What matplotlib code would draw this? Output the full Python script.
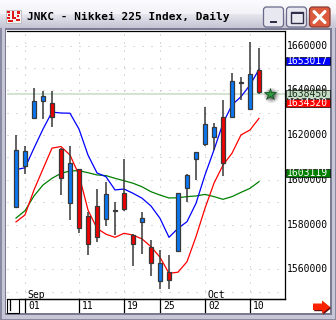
import matplotlib
matplotlib.use("Agg")
import matplotlib.pyplot as plt
import matplotlib.transforms as mtransforms
from matplotlib.patches import Rectangle, FancyBboxPatch, Polygon, Circle
import numpy as np

W, H = 336, 320

# ---------------- data ----------------
title = "JNKC - Nikkei 225 Index, Daily"
dates = ["2006-08-31", "2006-09-01", "2006-09-04", "2006-09-05", "2006-09-06",
         "2006-09-07", "2006-09-08", "2006-09-11", "2006-09-12", "2006-09-13",
         "2006-09-14", "2006-09-15", "2006-09-19", "2006-09-20", "2006-09-21",
         "2006-09-22", "2006-09-25", "2006-09-26", "2006-09-27", "2006-09-28",
         "2006-09-29", "2006-10-02", "2006-10-03", "2006-10-04", "2006-10-05",
         "2006-10-06", "2006-10-10", "2006-10-11"]
opens = [15877, 16063, 16275, 16351, 16344, 16138, 15898, 16047, 15838, 15883,
         15824, 15861, 15940, 15754, 15813, 15698, 15546, 15587, 15683, 15962,
         16092, 16162, 16190, 16283, 16283, 16432, 16318, 16491]
highs = [16201, 16152, 16410, 16397, 16397, 16143, 16152, 16048, 15856, 15959,
         15992, 15900, 16093, 15758, 15855, 15731, 15686, 15664, 15943, 16025,
         16124, 16325, 16253, 16357, 16479, 16461, 16615, 16588]
lows = [15877, 16026, 16275, 16274, 16238, 15932, 15821, 15764, 15664, 15724,
        15795, 15754, 15861, 15616, 15667, 15571, 15511, 15511, 15676, 15902,
        15999, 16152, 16134, 16019, 16280, 16357, 16318, 16385]
closes = [16134, 16129, 16353, 16375, 16280, 16010, 16075, 15786, 15712, 15743,
          15936, 15863, 15868, 15712, 15828, 15627, 15627, 15552, 15940, 16022,
          16123, 16249, 16235, 16074, 16442, 16437, 16473, 16392]
ma_blue = [16046, 16054, 16142, 16227, 16303, 16299, 16298, 16227, 16111, 16031,
           16014, 15955, 15959, 15940, 15918, 15883, 15828, 15743, 15783, 15813,
           15895, 16022, 16134, 16253, 16335, 16372, 16424, 16494]
ma_red = [15812, 15843, 15955, 16049, 16142, 16149, 16111, 16022, 15865, 15783,
          15757, 15743, 15761, 15753, 15736, 15701, 15654, 15582, 15587, 15634,
          15746, 15873, 15985, 16066, 16119, 16201, 16223, 16275]
ma_green = [15829, 15862, 15928, 15977, 16007, 16029, 16040, 16041, 16032, 16022,
            16019, 16007, 15996, 15985, 15969, 15947, 15932, 15919, 15920, 15925,
            15928, 15935, 15925, 15913, 15925, 15944, 15962, 15992]
last_price = 16384.50
axis_levels = [16600, 16400, 16200, 16000, 15800, 15600]
badge_values = [16530.17, 16384.50, 16343.20, 16031.19]
badge_colors = ["#0000ff", "#c4dcc4", "#ff0000", "#008000"]
badge_text_colors = ["white", "#1e2e1e", "white", "white"]
day_ticks = ["2006-09-01", "2006-09-11", "2006-09-19", "2006-09-25",
             "2006-10-02", "2006-10-10"]
month_ticks = [("Sep", "2006-09-01"), ("Oct", "2006-10-02")]

MONO = "DejaVu Sans Mono"
UP_C = "#0a78f5"
DN_C = "#f00000"
EDGE = "#383838"

fig = plt.figure(figsize=(W / 100, H / 100), dpi=100)
fig.patch.set_facecolor("white")

# ---------------- window chrome (pixel coords) ----------------
bg = fig.add_axes([0, 0, 1, 1])
bg.set_xlim(0, W)
bg.set_ylim(H, 0)
bg.axis("off")

bg.add_patch(Rectangle((0, 0), W, H, facecolor="#c6c6d6", edgecolor="none", zorder=0))
bg.add_patch(Rectangle((0, 0), 1.5, H, facecolor="#8a8aa2", edgecolor="none", zorder=0.1))
bg.add_patch(Rectangle((W - 1.5, 0), 1.5, H, facecolor="#8a8aa2", edgecolor="none", zorder=0.1))
bg.add_patch(Rectangle((0, H - 1.5), W, 1.5, facecolor="#8a8aa2", edgecolor="none", zorder=0.1))
bg.add_patch(Rectangle((4.5, 28), W - 9, H - 33, facecolor="#7a7a92", edgecolor="none", zorder=0.2))
bg.add_patch(Rectangle((6, 29.5), 324, 283.5, facecolor="white", edgecolor="none", zorder=0.3))

# title bar gradient
top = np.array([252, 252, 254]) / 255
mid = np.array([232, 232, 240]) / 255
bot = np.array([196, 196, 212]) / 255
n = 28
grad = np.zeros((n, 1, 3))
for k in range(n):
    t = k / (n - 1)
    grad[k, 0] = top * (1 - t) + mid * t if t < 0.5 else mid * (2 - 2 * t) + bot * (2 * t - 1)
bg.imshow(grad, extent=[0, W, 28, 0], aspect="auto", interpolation="bilinear", zorder=0.5)
bg.set_xlim(0, W)
bg.set_ylim(H, 0)

# icon
bg.add_patch(Rectangle((6, 10), 15, 13, facecolor="#f2f2f2", edgecolor="#b0b0b0", lw=0.5, zorder=1))
for (ix, iy, iw, ih) in [(7, 11, 3, 2), (8, 14, 2, 2), (7, 17, 3, 2), (12, 11, 2, 8), (14, 17, 2, 2),
                         (17, 11, 3, 3), (17, 15, 2, 2), (16, 19, 4, 2), (8, 20, 5, 2)]:
    bg.add_patch(Rectangle((ix, iy), iw, ih, facecolor="#e01818", edgecolor="none", zorder=1.1))

bg.text(27, 16.8, title, fontsize=8, fontweight="bold", family=MONO,
        color="#000000", va="center", ha="left", zorder=2)

# buttons
for (bx, face) in [(263.5, "#e8e8f0"), (286.5, "#e8e8f0")]:
    bg.add_patch(FancyBboxPatch((bx, 7), 20, 20, boxstyle="round,pad=0,rounding_size=3",
                                facecolor=face, edgecolor="#6a6a8a", lw=0.9, zorder=2))
bg.add_patch(FancyBboxPatch((309.5, 7), 20.5, 20, boxstyle="round,pad=0,rounding_size=3",
                            facecolor="#dc5a3e", edgecolor="#8a3a34", lw=0.9, zorder=2))
bg.add_patch(Rectangle((269.5, 20.5), 7, 2.5, facecolor="#303048", edgecolor="none", zorder=3))
bg.add_patch(Rectangle((291, 11.5), 11.5, 11.5, facecolor="none", edgecolor="#303048", lw=1.0, zorder=3))
bg.add_patch(Rectangle((291, 11.5), 11.5, 2, facecolor="#303048", edgecolor="none", zorder=3))
bg.plot([314, 325], [11.5, 22.5], color="white", lw=2.2, solid_capstyle="round", zorder=3)
bg.plot([314, 325], [22.5, 11.5], color="white", lw=2.2, solid_capstyle="round", zorder=3)

# bottom-left small box
bg.add_patch(Rectangle((7, 293), 12, 20, facecolor="white", edgecolor="black", lw=0.8, zorder=2))
bg.plot([9.5, 9.5], [295.5, 310], color="black", lw=0.9, zorder=3)

# red arrow with shadow
arrow = np.array([[313, 303.5], [322, 303.5], [322, 300.5], [330, 307], [322, 313.5],
                  [322, 310], [313, 310]])
bg.add_patch(Polygon(arrow + np.array([1.2, 1.2]), closed=True, facecolor="#6a1010",
                     edgecolor="none", zorder=2))
bg.add_patch(Polygon(arrow, closed=True, facecolor="#ff2200", edgecolor="none", zorder=3))

# ---------------- chart axes ----------------
ax = fig.add_axes([7 / W, 1 - 299 / H, (285 - 7) / W, (299 - 31) / H])
ax.set_facecolor("white")
ax.set_xlim(-1, 29.89)
ax.set_ylim(15467.2, 16665.7)
ax.set_xticks([])
ax.set_yticks([])
for side in ["top", "right", "bottom"]:
    ax.spines[side].set_color("black")
    ax.spines[side].set_linewidth(0.9)
ax.spines["left"].set_visible(False)

x = np.arange(len(dates))
idx = {d: i for i, d in enumerate(dates)}

for lv in range(15500, 16700, 100):
    ax.axhline(lv, color="#b4b4b4", lw=0.72, linestyle=(0, (1, 8)), zorder=0.5)
for d in day_ticks:
    ax.axvline(idx[d], color="#b4b4b4", lw=0.72, linestyle=(0, (1, 7)), zorder=0.5)

ax.axhline(last_price, color="#c6dcc6", lw=1.1, zorder=1)

ax.plot(x, ma_green, color="#008000", lw=0.9, zorder=2)
ax.plot(x, ma_red, color="#ff0000", lw=0.9, zorder=2)
ax.plot(x, ma_blue, color="#0000ff", lw=0.9, zorder=2)

o = np.array(opens, float)
c = np.array(closes, float)
colors = [UP_C if cc >= oo else DN_C for oo, cc in zip(o, c)]
ax.vlines(x, lows, highs, color=EDGE, lw=1.1, zorder=3)
body_h = np.maximum(np.abs(c - o), 1.0)
ax.bar(x, body_h, bottom=np.minimum(o, c), width=0.5, color=colors,
       edgecolor=EDGE, lw=0.9, zorder=4)

# star marker at last price
sx = x[-1] + 1.2
for r, a in [(11, 0.10), (9, 0.15), (7, 0.25), (5, 0.35)]:
    ax.plot(sx + 0.15, last_price - 6, marker="o", ms=r, color="#202020", alpha=a,
            mec="none", zorder=5, clip_on=False)
ax.plot(sx, last_price, marker="*", ms=9, color="#2e9a3e", mec="#0c4c1c", mew=0.5,
        zorder=6, clip_on=False)

# price axis labels
yax = mtransforms.blended_transform_factory(ax.transAxes, ax.transData)
lab_x = (287.3 - 7) / 278
for lv in axis_levels:
    ax.text(lab_x, lv, f"{int(round(lv * 100))}", transform=yax, fontsize=7,
            family=MONO, color="black", va="center", ha="left", clip_on=False, zorder=7)

px = 4.472  # value units per pixel
bx0 = (285.8 - 7) / 278
bw = 44 / 278
for v, fc, tc in zip(badge_values, badge_colors, badge_text_colors):
    ax.add_patch(Rectangle((bx0, v - 4 * px), bw, 8 * px, transform=yax,
                           facecolor=fc, edgecolor="black", lw=0.5, clip_on=False, zorder=8))
    ax.text(lab_x, v, f"{int(round(v * 100))}", transform=yax, fontsize=7,
            family=MONO, color=tc, va="center", ha="left", clip_on=False, zorder=9)

# date axis
xt = mtransforms.blended_transform_factory(ax.transData, ax.transAxes)
row_h = 13 / 268
ax.plot([-1 + 12 / 9, 29.89], [0, 0], transform=xt, color="black", lw=0.9, clip_on=False, zorder=7)
for d in day_ticks:
    i = idx[d]
    ax.plot([i, i], [0, -row_h], transform=xt, color="black", lw=0.9, clip_on=False, zorder=7)
    ax.text(i + 0.33, -7 / 268, d[-2:], transform=xt, fontsize=7, family=MONO,
            color="black", va="center", ha="left", clip_on=False, zorder=7)
for name, d in month_ticks:
    ax.text(idx[d] + 0.3, 4.5 / 268, name, transform=xt, fontsize=7, family=MONO,
            color="black", va="center", ha="left", clip_on=False, zorder=7)

fig.savefig("out.png", dpi=100)
